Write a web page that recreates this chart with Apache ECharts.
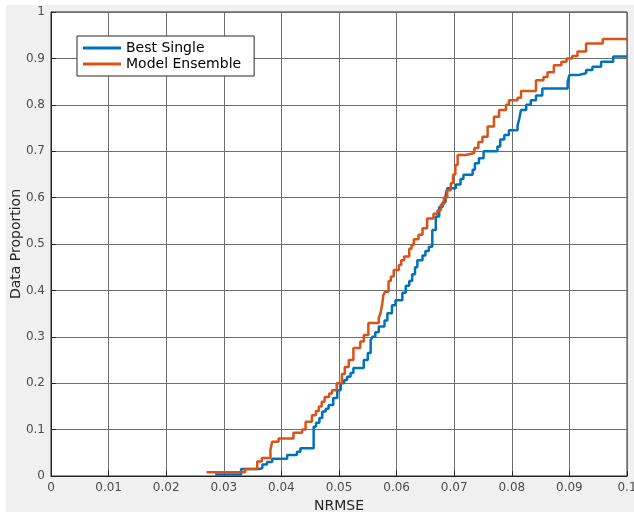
<!DOCTYPE html>
<html>
<head>
<meta charset="utf-8">
<script src="https://cdn.jsdelivr.net/npm/echarts@6/dist/echarts.min.js"></script>
<style>
  html, body { margin: 0; padding: 0; background: #fff; }
  #bg { position: absolute; left: 6px; top: 5px; width: 628px; height: 507px; background: #f0f0f0; }
  #chart { position: absolute; left: 0; top: 0; width: 634px; height: 514px; }
</style>
</head>
<body>
<div id="bg"></div>
<div id="chart"></div>
<script>
// step points: [NRMSE, proportion] - value jumps to y at x
const bestSingle = [
  [0.0285, 0.003], [0.033, 0.015], [0.0362, 0.017], [0.0367, 0.025], [0.0375, 0.03],
  [0.0384, 0.037], [0.041, 0.045], [0.0427, 0.052], [0.0433, 0.06], [0.0456, 0.106],
  [0.046, 0.115], [0.0466, 0.125], [0.0471, 0.139], [0.0477, 0.145], [0.0482, 0.153],
  [0.049, 0.168], [0.0497, 0.185], [0.0503, 0.2], [0.0509, 0.207], [0.0514, 0.214],
  [0.052, 0.222], [0.0525, 0.233], [0.0543, 0.25], [0.055, 0.265], [0.0555, 0.293],
  [0.0558, 0.3], [0.0563, 0.31], [0.0569, 0.322], [0.0579, 0.335], [0.0584, 0.351],
  [0.0592, 0.368], [0.0598, 0.379], [0.061, 0.395], [0.0616, 0.41], [0.0622, 0.42],
  [0.0627, 0.435], [0.0632, 0.45], [0.0636, 0.465], [0.0645, 0.475], [0.065, 0.485],
  [0.0656, 0.494], [0.0662, 0.53], [0.0668, 0.559], [0.0674, 0.58], [0.068, 0.59],
  [0.0685, 0.605], [0.0688, 0.62], [0.0703, 0.628], [0.0711, 0.64], [0.0716, 0.649],
  [0.0732, 0.66], [0.0736, 0.674], [0.0743, 0.685], [0.0751, 0.7], [0.0775, 0.71],
  [0.078, 0.725], [0.0787, 0.735], [0.0795, 0.745], [0.081, 0.755], [0.0813, 0.77],
  [0.0816, 0.789], [0.0825, 0.8], [0.0833, 0.81], [0.0842, 0.82], [0.0853, 0.835],
  [0.0897, 0.85], [0.09, 0.864], [0.0915, 0.868], [0.0929, 0.875], [0.094, 0.882],
  [0.0955, 0.893], [0.0976, 0.904], [0.1, 0.904]
];
const modelEnsemble = [
  [0.027, 0.008], [0.0337, 0.015], [0.0358, 0.031], [0.0366, 0.039], [0.0381, 0.056],
  [0.0384, 0.074], [0.0395, 0.081], [0.0421, 0.093], [0.0436, 0.1], [0.0442, 0.117],
  [0.0453, 0.131], [0.046, 0.14], [0.0465, 0.15], [0.047, 0.16], [0.0475, 0.17],
  [0.0483, 0.178], [0.0488, 0.185], [0.0496, 0.2], [0.0505, 0.22], [0.051, 0.235],
  [0.0517, 0.25], [0.0525, 0.276], [0.0537, 0.29], [0.0543, 0.304], [0.0551, 0.33],
  [0.0569, 0.34], [0.0572, 0.351], [0.0575, 0.37], [0.0577, 0.39], [0.058, 0.397],
  [0.0586, 0.42], [0.059, 0.43], [0.0595, 0.444], [0.0604, 0.455], [0.0608, 0.465],
  [0.0613, 0.473], [0.0622, 0.49], [0.0626, 0.498], [0.063, 0.51], [0.0638, 0.52],
  [0.0645, 0.534], [0.0653, 0.555], [0.0664, 0.565], [0.0671, 0.573], [0.0677, 0.585],
  [0.0682, 0.6], [0.0688, 0.616], [0.0694, 0.631], [0.0698, 0.65], [0.0702, 0.67],
  [0.0706, 0.692], [0.072, 0.696], [0.0735, 0.707], [0.0742, 0.72], [0.0749, 0.731],
  [0.0758, 0.753], [0.0769, 0.774], [0.0778, 0.789], [0.079, 0.8], [0.0795, 0.81],
  [0.081, 0.815], [0.0816, 0.83], [0.0842, 0.853], [0.0855, 0.86], [0.0862, 0.87],
  [0.0873, 0.885], [0.0886, 0.893], [0.0895, 0.9], [0.0905, 0.905], [0.0914, 0.915],
  [0.0929, 0.932], [0.0958, 0.942], [0.1, 0.942]
];
const seriesNames = ["Best Single", "Model Ensemble"];
const seriesColors = ["#0072BD", "#D95319"];

const chart = echarts.init(document.getElementById("chart"));
const font = "DejaVu Sans";
const gridLine = { show: true, lineStyle: { color: "#6e6e6e", width: 1 } };

chart.setOption({
  backgroundColor: "transparent",
  animation: false,
  textStyle: { fontFamily: font },
  grid: {
    left: 51, right: 7, top: 12, bottom: 38,
    outerBoundsMode: "none", containLabel: false,
    show: true, backgroundColor: "#ffffff", borderColor: "#262626", borderWidth: 1
  },
  legend: {
    left: 77, top: 36, orient: "vertical",
    backgroundColor: "#ffffff", borderColor: "#262626", borderWidth: 1,
    padding: [5, 13, 5, 6], itemGap: 2, itemWidth: 38, itemHeight: 16,
    textStyle: { fontSize: 14, color: "#000", fontFamily: font },
    data: seriesNames.map(n => ({ name: n, icon: "path://M0,6.5 L38,6.5 L38,9.5 L0,9.5 Z" }))
  },
  xAxis: {
    type: "value", min: 0, max: 0.1, interval: 0.01,
    name: "NRMSE", nameLocation: "middle", nameGap: 23, nameMoveOverlap: false,
    nameTextStyle: { fontSize: 14, color: "#262626" },
    axisLine: { show: true, lineStyle: { color: "#262626" } },
    axisTick: { show: true, inside: true, length: 5, lineStyle: { color: "#262626" } },
    axisLabel: { fontSize: 12, color: "#4d4d4d", margin: 6,
      formatter: v => String(Math.round(v * 100) / 100) },
    splitLine: gridLine
  },
  yAxis: {
    type: "value", min: 0, max: 1, interval: 0.1,
    name: "Data Proportion", nameLocation: "middle", nameGap: 28, nameMoveOverlap: false,
    nameTextStyle: { fontSize: 14, color: "#262626" },
    axisLine: { show: true, lineStyle: { color: "#262626" } },
    axisTick: { show: true, inside: true, length: 5, lineStyle: { color: "#262626" } },
    axisLabel: { fontSize: 12, color: "#4d4d4d", margin: 6,
      formatter: v => String(Math.round(v * 10) / 10) },
    splitLine: gridLine
  },
  series: [
    { name: seriesNames[0], type: "line", step: "end", data: bestSingle, showSymbol: false,
      lineStyle: { color: seriesColors[0], width: 2.5 }, itemStyle: { color: seriesColors[0] } },
    { name: seriesNames[1], type: "line", step: "end", data: modelEnsemble, showSymbol: false,
      lineStyle: { color: seriesColors[1], width: 2.5 }, itemStyle: { color: seriesColors[1] } }
  ]
});
</script>
</body>
</html>
